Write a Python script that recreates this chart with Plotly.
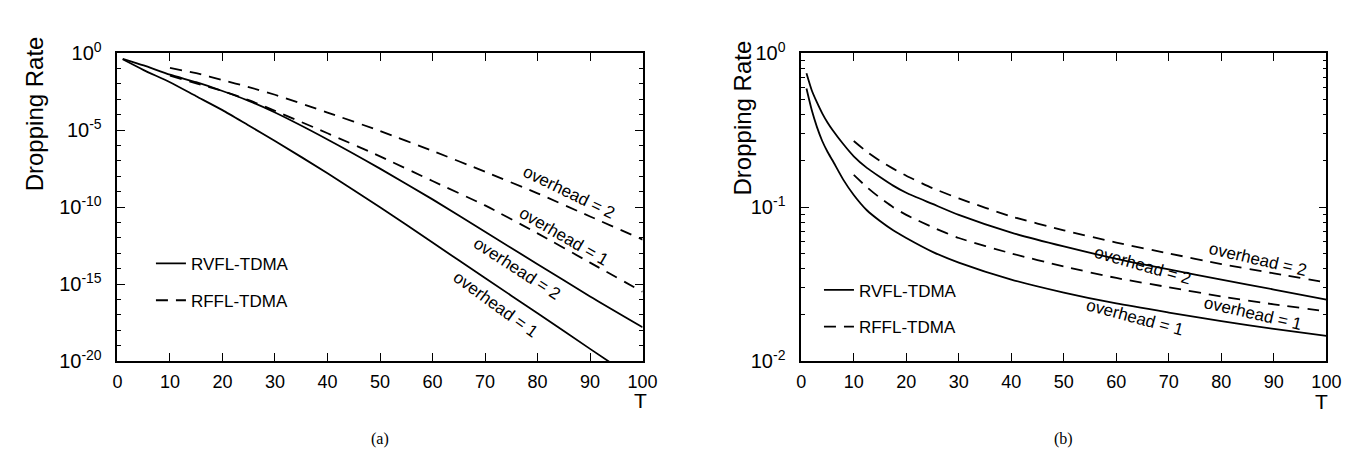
import plotly.graph_objects as go

# ---- panel (a): dropping rate vs T, log scale 1e-20 .. 1
a_T_solid = [1, 5, 10, 15, 20, 25, 30, 40, 50, 60, 70, 80, 90, 100]
a_rvfl_ov1 = [4.0e-1, 8.0e-2, 1.3e-2, 1.6e-3, 2.0e-4, 2.0e-5, 2.0e-6, 1.6e-8, 1.0e-10, 5.0e-13, 2.5e-15, 1.3e-17, 6.3e-20, 3.2e-22]
a_rvfl_ov2 = [4.3e-1, 1.6e-1, 4.0e-2, 1.3e-2, 3.5e-3, 8.0e-4, 1.4e-4, 2.5e-6, 3.2e-8, 3.2e-10, 2.5e-12, 2.0e-14, 1.6e-16, 1.6e-18]
a_T_dash = [10, 15, 20, 25, 30, 40, 50, 60, 70, 80, 90, 100]
a_rffl_ov1 = [3.5e-2, 1.1e-2, 3.5e-3, 9.0e-4, 1.8e-4, 6.3e-6, 2.0e-7, 5.0e-9, 1.3e-10, 2.0e-12, 2.5e-14, 3.2e-16]
a_rffl_ov2 = [1.1e-1, 5.0e-2, 1.8e-2, 6.3e-3, 2.0e-3, 1.4e-4, 8.9e-6, 4.5e-7, 2.0e-8, 7.9e-10, 2.5e-11, 7.9e-13]

# ---- panel (b): dropping rate vs T, log scale 1e-2 .. 1
b_T_solid = [1, 2, 3, 4, 5, 6, 8, 10, 12.5, 15, 17.5, 20, 25, 30, 40, 50, 60, 70, 80, 90, 100]
b_rvfl_ov1 = [0.589, 0.427, 0.331, 0.269, 0.229, 0.200, 0.151, 0.120, 0.0955, 0.0813, 0.0708, 0.0631,
              0.0513, 0.0437, 0.0339, 0.0279, 0.0237, 0.0207, 0.0182, 0.0162, 0.0146]
b_rvfl_ov2 = [0.741, 0.575, 0.479, 0.407, 0.355, 0.316, 0.257, 0.214, 0.180, 0.157, 0.138, 0.124,
              0.105, 0.0891, 0.0684, 0.0556, 0.0462, 0.0394, 0.0339, 0.0292, 0.0251]
b_T_dash = [10, 12.5, 15, 17.5, 20, 25, 30, 40, 50, 60, 70, 80, 90, 100]
b_rffl_ov1 = [0.162, 0.135, 0.115, 0.100, 0.0891, 0.0741, 0.0631, 0.0501, 0.0412, 0.0347, 0.0302, 0.0263, 0.0234, 0.0211]
b_rffl_ov2 = [0.269, 0.229, 0.200, 0.178, 0.160, 0.133, 0.114, 0.0871, 0.0708, 0.0589, 0.0501, 0.0427, 0.0372, 0.0324]

x_ticks = [0, 10, 20, 30, 40, 50, 60, 70, 80, 90, 100]
a_y_major = [1e0, 1e-5, 1e-10, 1e-15, 1e-20]
a_y_labels = ["10<sup>0</sup>", "10<sup>-5</sup>", "10<sup>-10</sup>", "10<sup>-15</sup>", "10<sup>-20</sup>"]
b_y_major = [1e0, 1e-1, 1e-2]
b_y_labels = ["10<sup>0</sup>", "10<sup>-1</sup>", "10<sup>-2</sup>"]

W, H = 1359, 453
FONT = "Liberation Sans, Arial, Helvetica, sans-serif"
DASH = "12px,8px"

fig = go.Figure()

def add(x, y, xa, ya, dash, name=None, legend=None):
    fig.add_trace(go.Scatter(
        x=x, y=y, xaxis=xa, yaxis=ya, mode="lines",
        line=dict(color="black", width=1.8, dash=dash, shape="spline", smoothing=0.6),
        name=name, showlegend=name is not None, legend=legend or "legend",
        hoverinfo="x+y"))

add(a_T_solid, a_rvfl_ov1, "x", "y", "solid", "RVFL-TDMA", "legend")
add(a_T_solid, a_rvfl_ov2, "x", "y", "solid")
add(a_T_dash, a_rffl_ov1, "x", "y", DASH, "RFFL-TDMA", "legend2")
add(a_T_dash, a_rffl_ov2, "x", "y", DASH)
add(b_T_solid, b_rvfl_ov1, "x2", "y2", "solid", "RVFL-TDMA", "legend3")
add(b_T_solid, b_rvfl_ov2, "x2", "y2", "solid")
add(b_T_dash, b_rffl_ov1, "x2", "y2", DASH, "RFFL-TDMA", "legend4")
add(b_T_dash, b_rffl_ov2, "x2", "y2", DASH)

def px(v):
    return v / W

def py(v):
    return 1 - v / H

ydom = [py(359), py(33)]
xax = dict(range=[0, 100], tickvals=x_ticks, ticks="inside", ticklen=8, tickwidth=1.3,
           tickcolor="black", showline=True, linecolor="black", linewidth=1.6, mirror="ticks",
           showgrid=False, zeroline=False, ticklabelstandoff=3,
           tickfont=dict(family=FONT, size=18, color="black"))
yax = dict(type="log", ticks="inside", ticklen=8, tickwidth=1.3, tickcolor="black",
           showline=True, linecolor="black", linewidth=1.6, mirror="ticks",
           showgrid=False, zeroline=False, ticklabelstandoff=10,
           tickfont=dict(family=FONT, size=20, color="black"), domain=ydom)

a_minor = [10.0 ** -k for k in range(0, 21) if k % 5 != 0]
b_minor = [m * 10.0 ** e for e in (-2, -1) for m in range(2, 10)]

fig.update_layout(
    width=W, height=H, autosize=False,
    margin=dict(l=0, r=0, t=0, b=0),
    paper_bgcolor="white", plot_bgcolor="white",
    xaxis=dict(xax, domain=[px(106), px(639)], anchor="y"),
    yaxis=dict(yax, range=[-20, 0], tickvals=a_y_major, ticktext=a_y_labels, anchor="x",
               minor=dict(tickvals=a_minor, ticks="inside", ticklen=4, tickcolor="black")),
    xaxis2=dict(xax, domain=[px(800), px(1333)], anchor="y2"),
    yaxis2=dict(yax, range=[-2, 0], tickvals=b_y_major, ticktext=b_y_labels, anchor="x2",
                minor=dict(tickvals=b_minor, ticks="inside", ticklen=4, tickcolor="black")),
    showlegend=True,
)

leg = dict(bgcolor="rgba(0,0,0,0)", font=dict(family=FONT, size=17, color="black"),
           xanchor="left", yanchor="middle", itemwidth=30)
fig.update_layout(
    legend=dict(leg, x=px(140), y=py(256)),
    legend2=dict(leg, x=px(140), y=py(295)),
    legend3=dict(leg, x=px(818), y=py(284)),
    legend4=dict(leg, x=px(818), y=py(323)),
)

def note(text, x, y, **kw):
    fig.add_annotation(text=text, x=x, y=y, showarrow=False, xanchor="center", yanchor="middle",
                       font=dict(family=kw.pop("family", FONT), size=kw.pop("size", 17), color="black"),
                       **kw)

# y titles
note("Dropping Rate", px(22), py(97), xref="paper", yref="paper", textangle=-90, size=24)
note("Dropping Rate", px(740), py(102), xref="paper", yref="paper", textangle=-90, size=24)
# x titles
note("T", px(637), py(401), xref="paper", yref="paper", size=21)
note("T", px(1328), py(402), xref="paper", yref="paper", size=21)
# panel captions
note("(a)", px(372), py(441), xref="paper", yref="paper", family="Liberation Serif, Times New Roman, serif", size=16)
note("(b)", px(1066), py(441), xref="paper", yref="paper", family="Liberation Serif, Times New Roman, serif", size=16)

# curve labels panel (a)
note("overhead = 2", 86, -9.05, xref="x", yref="y", textangle=26)
note("overhead = 1", 85, -11.9, xref="x", yref="y", textangle=30)
note("overhead = 2", 76, -14.0, xref="x", yref="y", textangle=33)
note("overhead = 1", 72, -16.3, xref="x", yref="y", textangle=36)
# curve labels panel (b)
note("overhead = 2", 87, -1.34, xref="x2", yref="y2", textangle=13)
note("overhead = 2", 65, -1.377, xref="x2", yref="y2", textangle=16)
note("overhead = 1", 86, -1.69, xref="x2", yref="y2", textangle=13)
note("overhead = 1", 63.5, -1.716, xref="x2", yref="y2", textangle=15)

fig.write_html("out.html")
